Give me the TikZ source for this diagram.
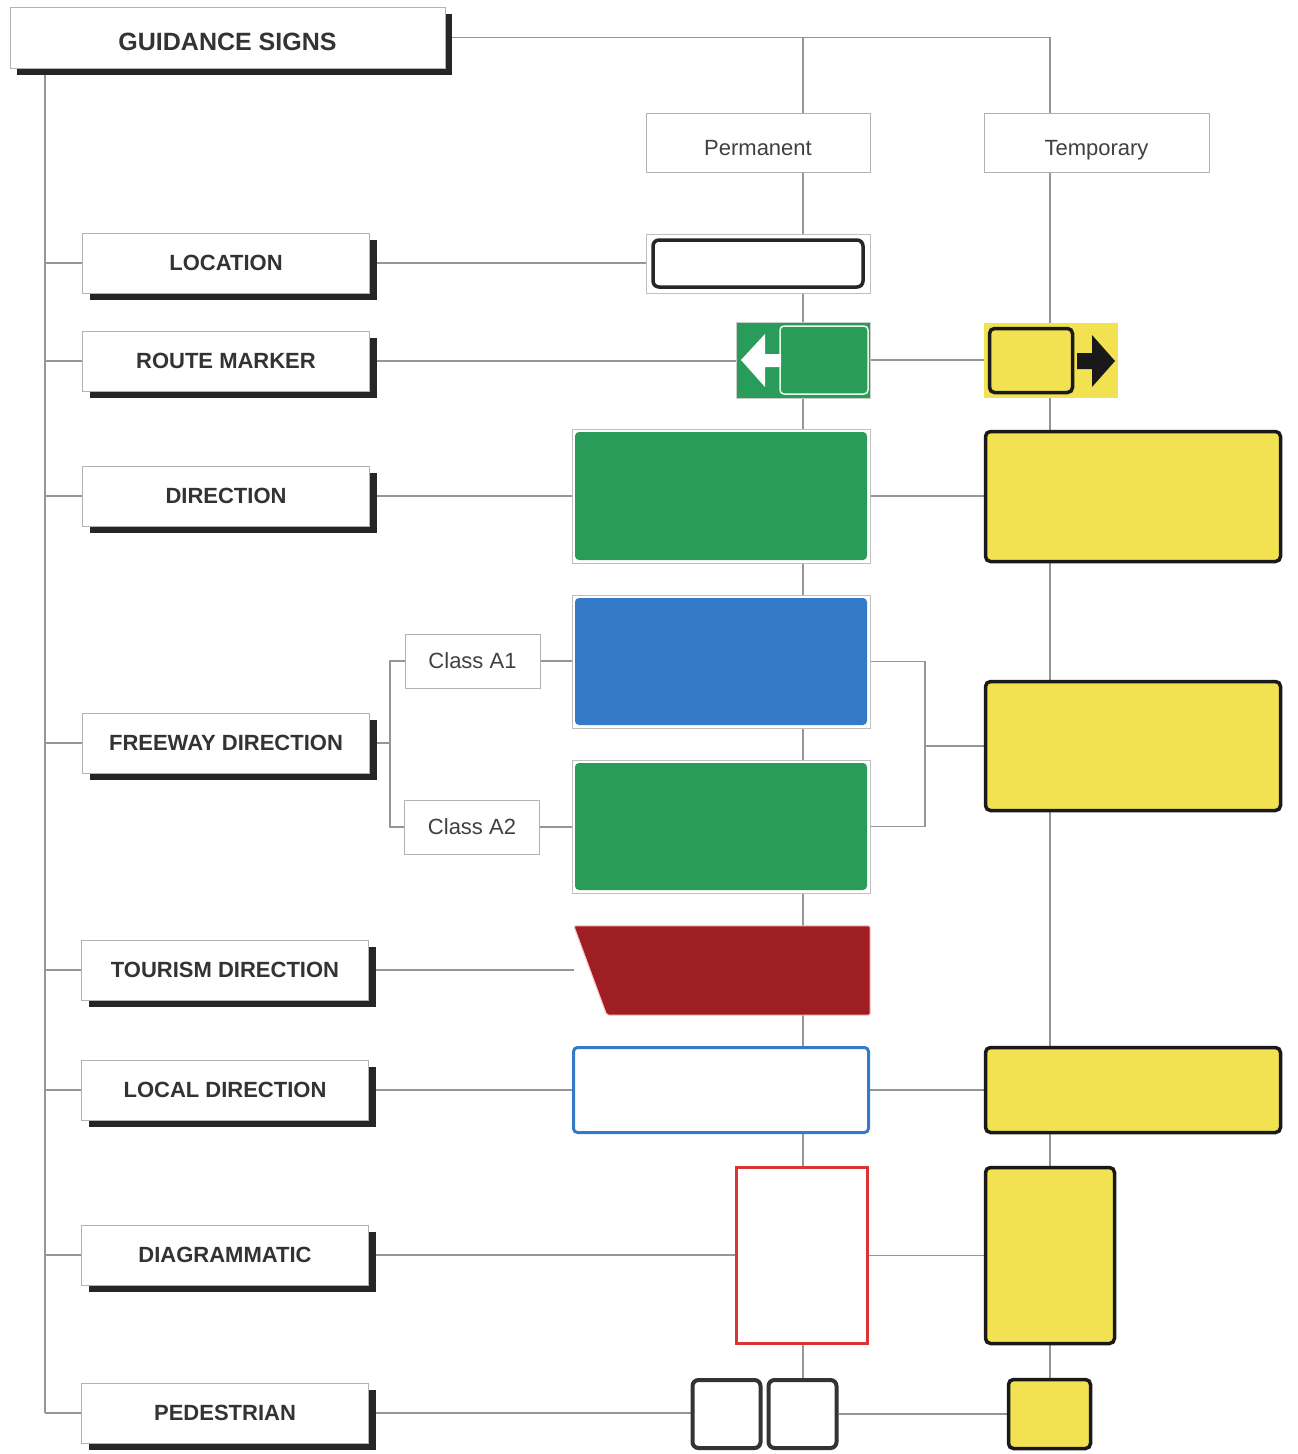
\documentclass[tikz,border=0pt]{standalone}
\usepackage{fontspec}
\setmainfont{Liberation Sans}
\usepackage{tikz}
\usetikzlibrary{positioning}
\usetikzlibrary{shadows}
\usetikzlibrary{backgrounds}
\definecolor{signgreen}{RGB}{40,156,88}
\definecolor{signblue}{RGB}{52,122,200}
\definecolor{signred}{RGB}{158,30,36}
\definecolor{signyellow}{RGB}{242,226,82}
\definecolor{diagred}{RGB}{218,52,52}
\definecolor{linegray}{RGB}{150,150,150}
\tikzset{cat node/.style={rectangle,draw=gray!60,fill=white,minimum width=287pt,minimum height=60pt,inner sep=0pt,text=black!80,font=\fontsize{22}{24}\selectfont\bfseries,general shadow={fill=black!85,shadow xshift=7pt,shadow yshift=-7pt}}}
\tikzset{head node/.style={rectangle,draw=gray!60,fill=white,minimum width=224pt,minimum height=59pt,inner sep=0pt,text=black!75,font=\fontsize{22}{24}\selectfont}}
\tikzset{low text/.style={text height=28pt,text depth=2pt}}
\tikzset{class node/.style={head node,minimum width=135pt,minimum height=54pt}}
\tikzset{perm sign/.style={rectangle,fill=white,draw=gray!50,line width=0.8pt,inner sep=0pt}}
\tikzset{panel/.style={rectangle,rounded corners=4pt,draw=none,inner sep=0pt}}
\tikzset{temp sign/.style={rectangle,rounded corners=5pt,fill=signyellow,draw=black!90,line width=3.5pt,inner sep=0pt}}
\tikzset{conn line/.style={draw=linegray,line width=1.2pt}}

\begin{document}
\begin{tikzpicture}[x=1pt,y=-1pt]
	\useasboundingbox (0,0) rectangle (1298,1454);
	\node[cat node,low text,minimum width=435pt,minimum height=61pt,font=\fontsize{25}{28}\selectfont\bfseries] (title) at (227.5,37.5) {GUIDANCE SIGNS};
	\node[head node,low text] (perm) at (758,142.5) {Permanent};
	\node[head node,low text,minimum width=225pt] (temp) at (1096.5,142.5) {Temporary};

	\node[cat node] (c_{1}) at (226,263) {LOCATION};
	\node[cat node] (c_{2}) at (226,361) {ROUTE MARKER};
	\node[cat node] (c_{3}) at (226,496) {DIRECTION};
	\node[cat node] (c_{4}) at (226,743) {FREEWAY DIRECTION};
	\node[cat node] (c_{5}) at (225,970) {TOURISM DIRECTION};
	\node[cat node] (c_{6}) at (225,1090) {LOCAL DIRECTION};
	\node[cat node] (c_{7}) at (225,1255) {DIAGRAMMATIC};
	\node[cat node] (c_{8}) at (225,1413) {PEDESTRIAN};

	\node[perm sign,minimum width=224pt,minimum height=59pt] (p_{1}) at (758,263.5) {};
	\node[panel,fill=white,draw=black!85,line width=3.5pt,rounded corners=6pt,minimum width=210pt,minimum height=47pt] at (p_{1}) {};

	\node[perm sign,fill=signgreen,draw=gray!40,minimum width=134pt,minimum height=76pt] (p_{2}) at (803,360) {};
	\node[panel,fill=signgreen,draw=green!10!white,line width=1.5pt,minimum width=88pt,minimum height=68pt] at (824,360) {};
	\fill[white] (741,360) -- (765,334) -- (765,354) -- (781,354) -- (781,367) -- (765,367) -- (765,387) -- cycle;
	\node[rectangle,fill=signyellow,inner sep=0pt,minimum width=134pt,minimum height=75pt] (t_{2}) at (1051,360) {};
	\node[temp sign,minimum width=83pt,minimum height=64pt] at (1031,360.5) {};
	\fill[black!90] (1115,361) -- (1092,335) -- (1092,353) -- (1077,353) -- (1077,369) -- (1092,369) -- (1092,387) -- cycle;

	\node[perm sign,minimum width=298pt,minimum height=134pt] (p_{3}) at (721,496) {};
	\node[panel,fill=signgreen,minimum width=292pt,minimum height=128pt] at (p_{3}) {};
	\node[temp sign,minimum width=295pt,minimum height=130pt] (t_{3}) at (1133,496.5) {};

	\node[class node] (a_{1}) at (472.5,661) {Class A1};
	\node[class node] (a_{2}) at (472,827) {Class A2};
	\node[perm sign,minimum width=298pt,minimum height=133pt] (p_{4a}) at (721,661.5) {};
	\node[panel,fill=signblue,minimum width=292pt,minimum height=127pt] at (p_{4a}) {};
	\node[perm sign,minimum width=298pt,minimum height=133pt] (p_{4b}) at (721,826.5) {};
	\node[panel,fill=signgreen,minimum width=292pt,minimum height=127pt] at (p_{4b}) {};
	\node[temp sign,minimum width=295pt,minimum height=129pt] (t_{4}) at (1133,746) {};

	\node[rectangle,inner sep=0pt,minimum width=296pt,minimum height=89pt] (p_{5}) at (722,970.5) {};
	\filldraw[fill=signred,draw=red!25!white,line width=1pt,rounded corners=2pt] (p_{5}.north west) -- (p_{5}.north east) -- (p_{5}.south east) -- ([xshift=33pt]p_{5}.south west) -- cycle;

	\node[perm sign,rounded corners=4pt,draw=signblue,line width=3pt,minimum width=295pt,minimum height=85pt] (p_{6}) at (721,1090) {};
	\node[temp sign,minimum width=295pt,minimum height=85pt] (t_{6}) at (1133,1090) {};

	\node[perm sign,draw=diagred,line width=2.5pt,minimum width=131pt,minimum height=176pt] (p_{7}) at (802,1255.5) {};
	\node[temp sign,minimum width=129pt,minimum height=176pt] (t_{7}) at (1050,1255.5) {};

	\node[perm sign,rounded corners=6pt,draw=black!80,line width=4pt,minimum width=68pt,minimum height=68pt] (p_{8a}) at (726.5,1414) {};
	\node[perm sign,rounded corners=6pt,draw=black!80,line width=4pt,minimum width=68pt,minimum height=68pt] (p_{8b}) [right=4pt of p_{8a}] {};
	\node[temp sign,minimum width=82pt,minimum height=69pt] (t_{8}) at (1049.5,1414) {};

	\coordinate (sp) at (45,68);
	\coordinate (pl) at (803,37.5);
	\coordinate (tl) at (1050,37.5);
	\coordinate (fl) at (390,743);
	\coordinate (fr) at (925,746);

	\begin{scope}[on background layer]
		\draw[conn line] (title.east) -- (tl) -- (tl |- t_{8}.north);
		\draw[conn line] (pl) -- (pl |- p_{8b}.north);
		\draw[conn line] (sp) -- (sp |- c_{8}.west);
		\foreach \i in {1,...,8}
			\draw[conn line] (sp |- c_{\i}.west) -- (c_{\i}.west);
		\draw[conn line] (c_{1}.east) -- (c_{1}.east -| p_{1}.west);
		\draw[conn line] (c_{2}.east) -- (c_{2}.east -| p_{2}.west);
		\draw[conn line] (p_{2}.east) -- (p_{2}.east -| t_{2}.west);
		\draw[conn line] (c_{3}.east) -- (c_{3}.east -| p_{3}.west);
		\draw[conn line] (p_{3}.east) -- (p_{3}.east -| t_{3}.west);
		\draw[conn line] (c_{4}.east) -- (fl);
		\draw[conn line] (a_{1}.west) -| (fl) |- (a_{2}.west);
		\draw[conn line] (a_{1}.east) -- (a_{1}.east -| p_{4a}.west);
		\draw[conn line] (a_{2}.east) -- (a_{2}.east -| p_{4b}.west);
		\draw[conn line] (p_{4a}.east) -| (fr) |- (p_{4b}.east);
		\draw[conn line] (fr) -- (t_{4}.west);
		\draw[conn line] (c_{5}.east) -- (c_{5}.east -| p_{5}.west);
		\draw[conn line] (c_{6}.east) -- (c_{6}.east -| p_{6}.west);
		\draw[conn line] (p_{6}.east) -- (p_{6}.east -| t_{6}.west);
		\draw[conn line] (c_{7}.east) -- (c_{7}.east -| p_{7}.west);
		\draw[conn line] (p_{7}.east) -- (p_{7}.east -| t_{7}.west);
		\draw[conn line] (c_{8}.east) -- (c_{8}.east -| p_{8a}.west);
		\draw[conn line] (p_{8b}.east) -- (p_{8b}.east -| t_{8}.west);
	\end{scope}
\end{tikzpicture}
\end{document}
